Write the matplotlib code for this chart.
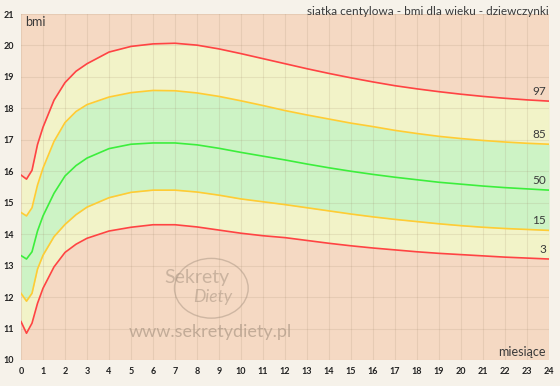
import matplotlib.pyplot as plt
from matplotlib.patches import Ellipse

# siatka centylowa BMI - dziewczynki 0-24 mies.
months = [0, 0.25, 0.5, 0.75, 1, 1.5, 2, 2.5, 3, 4, 5, 6, 7, 8, 9, 10, 11, 12,
          13, 14, 15, 16, 17, 18, 19, 20, 21, 22, 23, 24]
p3 = [11.22, 10.85, 11.17, 11.80, 12.28, 12.96, 13.42, 13.68, 13.87, 14.10, 14.22,
      14.30, 14.30, 14.23, 14.13, 14.03, 13.95, 13.89, 13.80, 13.71, 13.63, 13.56,
      13.50, 13.44, 13.39, 13.35, 13.31, 13.27, 13.24, 13.21]
p15 = [12.12, 11.87, 12.12, 12.89, 13.33, 13.92, 14.31, 14.62, 14.86, 15.16, 15.33,
       15.40, 15.40, 15.34, 15.24, 15.12, 15.03, 14.94, 14.84, 14.74, 14.64, 14.55,
       14.47, 14.40, 14.33, 14.27, 14.22, 14.18, 14.15, 14.12]
p50 = [13.32, 13.21, 13.44, 14.10, 14.58, 15.30, 15.85, 16.18, 16.42, 16.72, 16.86,
       16.90, 16.90, 16.84, 16.73, 16.60, 16.48, 16.36, 16.23, 16.11, 16.00, 15.90,
       15.81, 15.73, 15.65, 15.59, 15.53, 15.48, 15.44, 15.40]
p85 = [14.69, 14.58, 14.84, 15.56, 16.10, 16.95, 17.55, 17.90, 18.12, 18.36, 18.50,
       18.57, 18.56, 18.49, 18.38, 18.24, 18.09, 17.93, 17.79, 17.66, 17.53, 17.42,
       17.30, 17.20, 17.11, 17.04, 16.98, 16.93, 16.89, 16.86]
p97 = [15.88, 15.75, 16.03, 16.85, 17.40, 18.26, 18.82, 19.18, 19.42, 19.79, 19.97,
       20.05, 20.07, 20.01, 19.89, 19.74, 19.58, 19.42, 19.26, 19.11, 18.97, 18.84,
       18.72, 18.62, 18.53, 18.45, 18.38, 18.32, 18.27, 18.23]
labels = ["3", "15", "50", "85", "97"]

x_ticks = list(range(0, 25))
y_ticks = list(range(10, 22))

RED = "#ff4343"
YEL = "#ffcc33"
GRN = "#3cee3c"
TXT = "#3a3a3a"

plt.rcParams['font.family'] = ['Lato', 'DejaVu Sans']

fig = plt.figure(figsize=(5.6, 3.86), dpi=100)
fig.patch.set_facecolor("#f6f2ea")
ax = fig.add_axes([0.0375, 0.0674, 0.943, 0.8963])
ax.set_facecolor("#f5d9c3")

# pasy
ax.fill_between(months, p3, p15, color="#f2f3c8", lw=0, zorder=1)
ax.fill_between(months, p15, p85, color="#cdf3c5", lw=0, zorder=1)
ax.fill_between(months, p85, p97, color="#f2f3c8", lw=0, zorder=1)

# siatka
for m in x_ticks:
    ax.axvline(m, color="#9c8468", alpha=0.16, lw=0.8, zorder=2)
for v in y_ticks:
    ax.axhline(v, color="#9c8468", alpha=0.16, lw=0.8, zorder=2)

series = [p3, p15, p50, p85, p97]
colors = [RED, YEL, GRN, YEL, RED]
for s, c, lab in zip(series, colors, labels):
    ax.plot(months, s, color=c, lw=1.2, zorder=3, solid_joinstyle="round")
    ax.annotate(lab, (months[-1], s[-1]), xytext=(-2, 3), textcoords="offset points",
                ha="right", va="bottom", fontsize=8.5, color=TXT, zorder=4)

ax.set_xlim(0, 24)
ax.set_ylim(10, 21)
ax.set_xticks(x_ticks)
ax.set_yticks(y_ticks)
ax.tick_params(length=0, labelsize=6.5, labelcolor="#222222", pad=5)
for lbl in ax.get_xticklabels() + ax.get_yticklabels():
    lbl.set_fontweight("bold")
for sp in ax.spines.values():
    sp.set_visible(False)

ax.text(0.2, 20.75, "bmi", fontsize=9, color=TXT, va="center", ha="left")
ax.text(23.85, 10.25, "miesiące", fontsize=9, color=TXT, va="center", ha="right")
fig.text(0.98, 0.985, "siatka centylowa - bmi dla wieku - dziewczynki",
         fontsize=8.5, color=TXT, ha="right", va="top")

# znak wodny
wm = "#a89482"
ax.add_patch(Ellipse((8.65, 12.28), 3.35, 1.9, fill=False, ec=wm, lw=1.0, alpha=0.5, zorder=4))
ax.text(8.0, 12.62, "Sekrety", fontsize=14, color=wm, alpha=0.55, ha="center", va="center", zorder=4)
ax.text(8.7, 12.0, "Diety", fontsize=12.5, color=wm, alpha=0.55, style="italic",
        ha="center", va="center", zorder=4)
ax.text(8.6, 10.9, "www.sekretydiety.pl", fontsize=13, color=wm, alpha=0.65,
        ha="center", va="center", zorder=4)

fig.savefig("out.png", dpi=100, facecolor=fig.get_facecolor())
